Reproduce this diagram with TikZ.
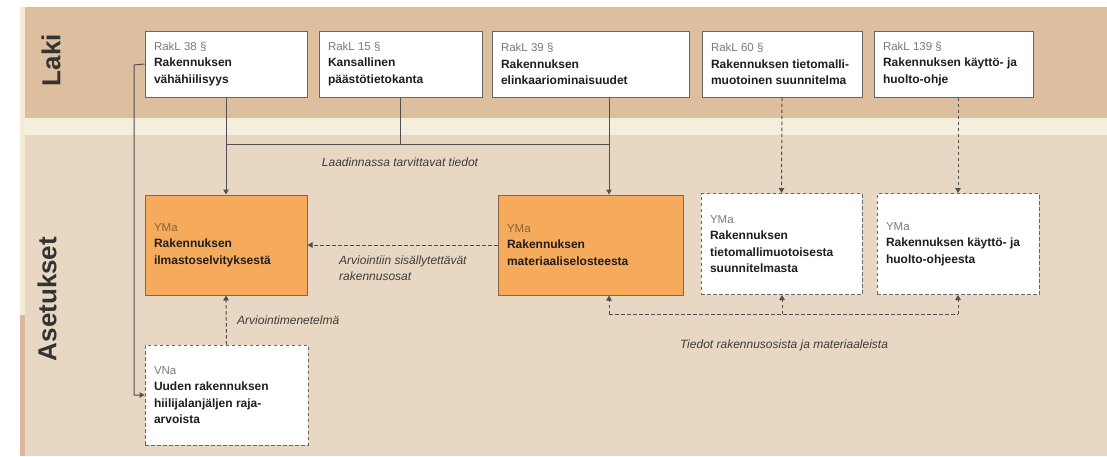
\documentclass[tikz,border=0pt]{standalone}
\usepackage{fontspec}
\setmainfont{Liberation Sans}
\usetikzlibrary{arrows.meta}
\definecolor{lakibg}{HTML}{DDBE9E}
\definecolor{creambg}{HTML}{F4EEDD}
\definecolor{asetbg}{HTML}{E8D8C3}
\definecolor{stripc}{HTML}{F3EAD8}
\definecolor{stripd}{HTML}{D9B99A}
\definecolor{orangef}{HTML}{F5AA5C}
\definecolor{oranged}{HTML}{85684C}
\definecolor{hdr}{HTML}{7A7A7A}
\definecolor{hdro}{HTML}{8A6238}
\definecolor{ink}{HTML}{1E1E1E}
\definecolor{linec}{HTML}{505050}
\definecolor{boxline}{HTML}{666666}
\definecolor{lbl}{HTML}{3C3C3C}
\definecolor{bandtxt}{HTML}{333333}
\tikzset{
  lawbox/.style={draw=boxline, line width=1pt, fill=white, inner sep=0pt,
    minimum height=66pt, font=\fontsize{12}{16.5}\selectfont, text=ink, align=flush left},
  orbox/.style={draw=oranged, line width=1pt, fill=orangef, inner sep=0pt,
    minimum height=100pt, font=\fontsize{12}{16.5}\selectfont, text=ink, align=flush left},
  dbox/.style={draw=boxline, line width=1pt, dash pattern=on 3.5pt off 2.5pt, fill=white, inner sep=0pt,
    minimum height=101pt, font=\fontsize{12}{16.5}\selectfont, text=ink, align=flush left},
  conn/.style={draw=linec, line width=1pt},
  conarrow/.style={conn, -{Triangle[length=5pt,width=5.5pt]}},
  dconn/.style={conn, dash pattern=on 3.5pt off 2.5pt},
  dconarrow/.style={dconn, -{Triangle[length=5pt,width=5.5pt]}},
  elabel/.style={font=\fontsize{12}{16}\selectfont\itshape, text=lbl, inner sep=0pt, align=left},
  bandlabel/.style={font=\fontsize{26}{28}\selectfont\bfseries, text=bandtxt, rotate=90, inner sep=0pt}
}
\newcommand{\hd}[1]{{\fontsize{11.5}{16.5}\selectfont\color{hdr}#1}}
\newcommand{\hdo}[1]{{\fontsize{11.5}{16.5}\selectfont\color{hdro}#1}}
\begin{document}
\begin{tikzpicture}[x=1pt,y=-1pt]
\useasboundingbox (0,0) rectangle (1107,456);
\fill[white] (0,0) rectangle (1107,456);
% bands
\fill[lakibg] (20,7) rectangle (1107,118);
\fill[creambg] (20,118) rectangle (1107,135);
\fill[asetbg] (20,135) rectangle (1107,456);
\fill[stripc] (20,7) rectangle (25,315);
\fill[stripd] (20,315) rectangle (25,456);
\node[bandlabel] (laki) at (51,60) {Laki};
\node[bandlabel] (aset) at (47,299) {Asetukset};

% law boxes
\node[lawbox, minimum width=162pt, text width=144pt] (b1) at (226,64)
  {\hd{RakL 38 §}\\\textbf{Rakennuksen}\\\textbf{vähähiilisyys}};
\node[lawbox, minimum width=163pt, text width=145pt] (b2) at (400.5,64)
  {\hd{RakL 15 §}\\\textbf{Kansallinen}\\\textbf{päästötietokanta}};
\node[lawbox, minimum width=197pt, text width=179pt] (b3) at (590.5,64)
  {\hd{RakL 39 §}\\\textbf{Rakennuksen}\\\textbf{elinkaariominaisuudet}};
\node[lawbox, minimum width=160pt, text width=142pt] (b4) at (782,64)
  {\hd{RakL 60 §}\\\textbf{Rakennuksen tietomalli-}\\\textbf{muotoinen suunnitelma}};
\node[lawbox, minimum width=159pt, text width=141pt] (b5) at (953.5,64)
  {\hd{RakL 139 §}\\\textbf{Rakennuksen käyttö- ja}\\\textbf{huolto-ohje}};

% regulation boxes
\node[orbox, minimum width=162pt, text width=144pt] (o1) at (226,245)
  {\hdo{YMa}\\\textbf{Rakennuksen}\\\textbf{ilmastoselvityksestä}};
\node[orbox, minimum width=185pt, text width=167pt] (o2) at (590.5,245)
  {\hdo{YMa}\\\textbf{Rakennuksen}\\\textbf{materiaaliselosteesta}};
\node[dbox, minimum width=161pt, text width=143pt] (d3) at (781.5,244)
  {\hd{YMa}\\\textbf{Rakennuksen}\\\textbf{tietomallimuotoisesta}\\\textbf{suunnitelmasta}};
\node[dbox, minimum width=162pt, text width=144pt] (d4) at (958,244)
  {\hd{YMa}\\\textbf{Rakennuksen käyttö- ja}\\\textbf{huolto-ohjeesta}};
\node[dbox, minimum width=163pt, minimum height=100pt, text width=145pt] (vna) at (226.5,395)
  {\hd{VNa}\\\textbf{Uuden rakennuksen}\\\textbf{hiilijalanjäljen raja-}\\\textbf{arvoista}};

% solid connectors
\coordinate (j1) at (226,144);
\coordinate (j3) at (609,144);
\draw[conarrow] (b1.south) -- (o1.north);
\draw[conn] (j1) -- (j3);
\draw[conn] (b2.south) -- (b2.south |- j1);
\draw[conarrow] (j3 |- b3.south) -- (j3 |- o2.north);
\coordinate (lft) at (134,65);
\draw[conarrow] (b1.west) -- (lft) |- (vna.west);
\node[elabel] (lab1) at (400,162) {Laadinnassa tarvittavat tiedot};

% dashed connectors
\draw[dconarrow] (o2.west) -- (o1.east);
\node[elabel, anchor=north west] (lab2) at (339,256) {Arviointiin sisällytettävät\\rakennusosat};
\draw[dconarrow] (vna.north) -- (o1.south);
\node[elabel, anchor=west] (lab3) at (237,320) {Arviointimenetelmä};
\draw[dconarrow] (b4.south) -- (d3.north);
\draw[dconarrow] (d4.north |- b5.south) -- (d4.north);
\coordinate (bl) at (609,314);
\coordinate (bm) at (782,314);
\coordinate (br) at (958,314);
\draw[dconn] (bl) -- (br);
\draw[dconarrow] (bl) -- (bl |- o2.south);
\draw[dconarrow] (bm) -- (bm |- d3.south);
\draw[dconarrow] (br) -- (d4.south);
\node[elabel] (lab4) at (784,345) {Tiedot rakennusosista ja materiaaleista};
\end{tikzpicture}
\end{document}
